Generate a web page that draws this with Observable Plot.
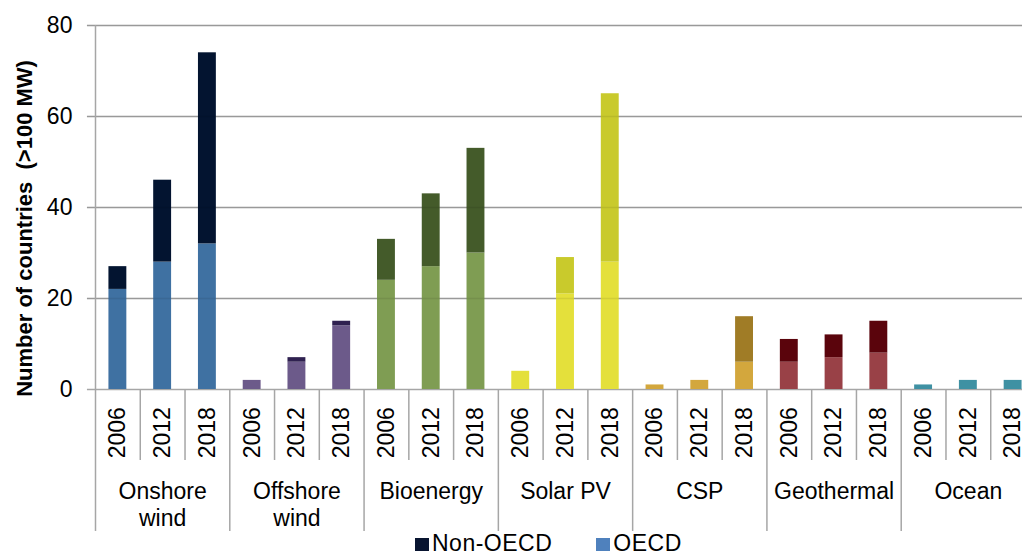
<!DOCTYPE html>
<html>
<head>
<meta charset="utf-8">
<script src="https://cdn.jsdelivr.net/npm/d3@7"></script>
<script src="https://cdn.jsdelivr.net/npm/@observablehq/plot@0.6"></script>
<style>
  body { margin: 0; background: #fff; font-family: "Liberation Sans", Arial, sans-serif; overflow: hidden; }
  #legend { height: 21px; padding-left: 415px; font-size: 23px; line-height: 23px; color: #000; white-space: nowrap; letter-spacing: 0.5px; }
  #legend .sw { display: inline-block; width: 14px; height: 13px; margin-right: 3px; }
  #legend .item + .item { margin-left: 44px; }
</style>
</head>
<body>
<div id="chart"></div>
<div id="legend"></div>
<script>
// Technologies, with their two-line labels
const technologies = ["Onshore wind", "Offshore wind", "Bioenergy", "Solar PV", "CSP", "Geothermal", "Ocean"];
const techLabels = ["Onshore\nwind", "Offshore\nwind", "Bioenergy", "Solar PV", "CSP", "Geothermal", "Ocean"];
const years = ["2006", "2012", "2018"];

// Number of countries with more than 100 MW installed, per technology and year
const oecd    = [[22, 28, 32], [2, 6, 14], [24, 27, 30], [4, 21, 28], [1, 2, 6], [6, 7, 8], [1, 2, 2]];
const nonOecd = [[5, 18, 42], [0, 1, 1], [9, 16, 23], [0, 8, 37], [0, 0, 10], [5, 5, 7], [0, 0, 0]];

// Value axis ticks
const yTicks = [0, 20, 40, 60, 80];

// Colour pair per technology (OECD lighter, Non-OECD darker)
const oecdColors    = ["#3f71a2", "#6c5a8a", "#7f9d53", "#e4e03b", "#d3a73d", "#994147", "#3f91a3"];
const nonOecdColors = ["#031430", "#2f2150", "#445b2a", "#c9ca2c", "#a07c26", "#5a040c", "#1f5b68"];
const legendItems = [
  { label: "Non-OECD", color: "#081430" },
  { label: "OECD", color: "#4f81bd" }
];

const nYears = years.length;
const nSlots = technologies.length * nYears;

// One slot per (technology, year); stacked OECD / Non-OECD segments
const rows = [];
technologies.forEach((tech, g) => {
  years.forEach((year, j) => {
    const slot = g * nYears + j;
    rows.push({ slot, tech, year, region: "OECD", y1: 0, y2: oecd[g][j], color: oecdColors[g] });
    if (nonOecd[g][j] > 0) {
      rows.push({ slot, tech, year, region: "Non-OECD", y1: oecd[g][j], y2: oecd[g][j] + nonOecd[g][j], color: nonOecdColors[g] });
    }
  });
});

const yearCells = rows.filter(d => d.region === "OECD");
const boundaries = d3.range(0, nSlots + 1);

// Levels below the baseline (in axis units) for the category axis parts
const yearTickEnd = -15.6;
const groupTickEnd = -31.2;
const yearLabelY = -9.5;
const techLabelY = -19.9;
const gridStart = -0.18;

const grid = "#a6a6a6";

const chart = Plot.plot({
  width: 1022,
  height: 532,
  style: { fontFamily: "'Liberation Sans', Arial, sans-serif", background: "#fff", color: "#000" },
  x: { type: "linear", domain: [0, nSlots], range: [95, 1035], axis: null },
  y: { domain: [0, 80], range: [389, 25], axis: null },
  marks: [
    // horizontal gridlines, including the baseline
    Plot.ruleY(yTicks, { y: d => d, x1: gridStart, x2: nSlots, stroke: grid, strokeWidth: 1.5 }),
    // stacked bars
    Plot.rectY(rows, { x1: d => d.slot + 0.3, x2: d => d.slot + 0.7, y1: "y1", y2: "y2", fill: "color" }),
    // gridlines faintly showing through the bars
    Plot.ruleY(yTicks.slice(1), { y: d => d, x1: gridStart, x2: nSlots, stroke: "#000", strokeOpacity: 0.08, strokeWidth: 1.5 }),
    // value axis line
    Plot.ruleX([0], { x: d => d, y1: 0, y2: 80, stroke: grid, strokeWidth: 1.5 }),
    // category separators: short between years, long between technologies
    Plot.ruleX(boundaries, {
      x: d => d,
      y1: 0,
      y2: d => (d % nYears === 0 ? groupTickEnd : yearTickEnd),
      stroke: grid,
      strokeWidth: 1.5
    }),
    // value tick labels
    Plot.text(yTicks, { x: gridStart, y: d => d, dx: -15, text: d => String(d), textAnchor: "end", fontSize: 23, letterSpacing: 0.5 }),
    // year labels
    Plot.text(yearCells, { x: d => d.slot + 0.5, y: yearLabelY, text: "year", rotate: -90, fontSize: 23, letterSpacing: 0.3 }),
    // technology labels
    Plot.text(technologies, {
      x: (d, i) => i * nYears + nYears / 2,
      y: techLabelY,
      text: (d, i) => techLabels[i],
      lineAnchor: "top",
      lineHeight: 1.17,
      fontSize: 23,
      letterSpacing: 0.6
    }),
    // value axis title
    Plot.text(["Number of countries  (>100 MW)"], {
      x: -1.586,
      y: 35.4,
      text: d => d,
      rotate: -90,
      fontSize: 22,
      fontWeight: "bold"
    })
  ]
});

document.getElementById("chart").appendChild(chart);
chart.style.display = "block";

// legend below the chart
const legend = d3.select("#legend");
legendItems.forEach(item => {
  const span = legend.append("span").attr("class", "item");
  span.append("span").attr("class", "sw").style("background", item.color);
  span.append("span").text(item.label);
});
</script>
</body>
</html>
